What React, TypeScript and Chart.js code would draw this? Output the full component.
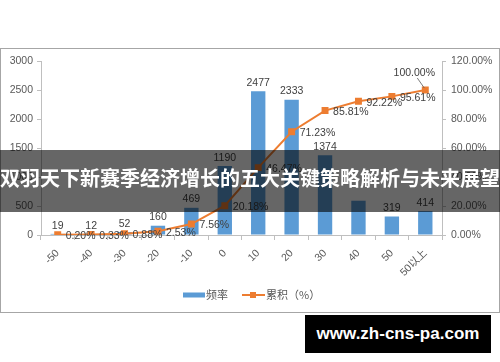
import React, { useEffect, useRef } from "react";
import { Chart, registerables } from "chart.js";

Chart.register(...registerables);

const categories = ["-50", "-40", "-30", "-20", "-10", "0", "10", "20", "30", "40", "50", "50以上"];
const frequency = [19, 12, 52, 160, 469, 1190, 2477, 2333, 1374, 591, 319, 414];
const cumulative = [0.2, 0.33, 0.88, 2.53, 7.56, 20.18, 46.47, 71.23, 85.81, 92.22, 95.61, 100.0];
const hiddenBarLabels = [9];
const seriesNames = ["频率", "累积（%）"];
const titleText = "双羽天下新赛季经济增长的五大关键策略解析与未来展望";
const watermarkText = "www.zh-cns-pa.com";

const BLUE = "#5B9BD5";
const ORANGE = "#ED7D31";
const AXIS = "#bfbfbf";
const TICK_COLOR = "#595959";
const LABEL_COLOR = "#404040";
const FONT_FAMILY = "'Liberation Sans', 'Noto Sans CJK SC', sans-serif";

const decorPlugin = {
  id: "decor",
  beforeDraw(chart: any) {
    const ctx = chart.ctx;
    ctx.save();
    ctx.fillStyle = "#ffffff";
    ctx.fillRect(0, 0, chart.width, chart.height);
    ctx.strokeStyle = "#a6a6a6";
    ctx.lineWidth = 1;
    ctx.strokeRect(0.5, 48.5, 499, 264);
    ctx.restore();
  },
  afterDatasetsDraw(chart: any) {
    const ctx = chart.ctx;
    ctx.save();
    ctx.font = `10.5px ${FONT_FAMILY}`;
    ctx.fillStyle = LABEL_COLOR;
    const barMeta = chart.getDatasetMeta(0);
    ctx.textAlign = "center";
    ctx.textBaseline = "bottom";
    barMeta.data.forEach((el: any, i: number) => {
      if (hiddenBarLabels.includes(i)) return;
      ctx.fillText(String(frequency[i]), el.x, el.y - 3);
    });
    const lineMeta = chart.getDatasetMeta(1);
    ctx.textBaseline = "middle";
    lineMeta.data.forEach((el: any, i: number) => {
      const txt = cumulative[i].toFixed(2) + "%";
      if (i === cumulative.length - 1) {
        ctx.textAlign = "center";
        ctx.fillText(txt, el.x - 11, el.y - 17);
        ctx.strokeStyle = "#595959";
        ctx.lineWidth = 0.8;
        ctx.beginPath();
        ctx.moveTo(el.x - 8, el.y - 12);
        ctx.lineTo(el.x - 1, el.y - 2);
        ctx.stroke();
      } else {
        ctx.textAlign = "left";
        ctx.fillText(txt, el.x + 8, el.y + 1.5);
      }
    });
    ctx.restore();
  },
  afterDraw(chart: any) {
    const ctx = chart.ctx;
    ctx.save();
    const ly = 295;
    ctx.fillStyle = BLUE;
    ctx.fillRect(183, ly - 2.5, 22, 5);
    ctx.font = `11px 'Noto Sans CJK SC', sans-serif`;
    ctx.fillStyle = TICK_COLOR;
    ctx.textAlign = "left";
    ctx.textBaseline = "middle";
    ctx.fillText(seriesNames[0], 206, ly);
    ctx.strokeStyle = ORANGE;
    ctx.lineWidth = 2;
    ctx.beginPath();
    ctx.moveTo(242, ly);
    ctx.lineTo(265, ly);
    ctx.stroke();
    ctx.fillStyle = ORANGE;
    ctx.fillRect(250, ly - 3, 6, 6);
    ctx.fillStyle = TICK_COLOR;
    ctx.fillText(seriesNames[1], 266, ly);
    ctx.restore();
  },
};

export default function App() {
  const canvasRef = useRef<HTMLCanvasElement | null>(null);

  useEffect(() => {
    const canvas = canvasRef.current;
    if (!canvas) return;
    const tickFont = { family: FONT_FAMILY, size: 10.5 };
    const chart = new Chart(canvas, {
      type: "bar",
      data: {
        labels: categories,
        datasets: [
          {
            type: "bar",
            label: seriesNames[0],
            data: frequency,
            backgroundColor: BLUE,
            barPercentage: 0.43,
            categoryPercentage: 1,
            yAxisID: "y",
            order: 1,
          },
          {
            type: "line",
            label: seriesNames[1],
            data: cumulative,
            borderColor: ORANGE,
            backgroundColor: ORANGE,
            borderWidth: 2,
            pointStyle: "rect",
            pointRadius: 3.5,
            pointBackgroundColor: ORANGE,
            pointBorderColor: ORANGE,
            tension: 0,
            yAxisID: "y1",
            order: 0,
          },
        ],
      } as any,
      options: {
        responsive: false,
        animation: false,
        devicePixelRatio: 1,
        layout: { padding: { top: 61, left: 0, right: 0, bottom: 0 } },
        plugins: {
          legend: { display: false },
          tooltip: { enabled: false },
          title: { display: false },
        },
        scales: {
          x: {
            offset: true,
            grid: { offset: true, drawOnChartArea: false, drawTicks: true, tickLength: 5, color: AXIS },
            border: { display: true, color: AXIS },
            ticks: { minRotation: 45, maxRotation: 45, color: TICK_COLOR, font: tickFont, padding: 7 },
            afterFit: (s: any) => {
              s.height = 127;
            },
          },
          y: {
            position: "left",
            min: 0,
            max: 3000,
            grid: { drawOnChartArea: false, drawTicks: true, tickLength: 4, color: AXIS },
            border: { display: true, color: AXIS },
            ticks: { stepSize: 500, color: TICK_COLOR, font: tickFont, padding: 4, callback: (v: any) => String(v) },
            afterFit: (s: any) => {
              s.width = 41;
            },
          },
          y1: {
            position: "right",
            min: 0,
            max: 120,
            grid: { drawOnChartArea: false, drawTicks: true, tickLength: 4, color: AXIS },
            border: { display: true, color: AXIS },
            ticks: {
              stepSize: 20,
              color: TICK_COLOR,
              font: tickFont,
              padding: 5,
              callback: (v: any) => Number(v).toFixed(2) + "%",
            },
            afterFit: (s: any) => {
              s.width = 58;
            },
          },
        },
      } as any,
      plugins: [decorPlugin],
    });
    return () => chart.destroy();
  }, []);

  return (
    <div style={{ position: "fixed", left: 0, top: 0, width: 500, height: 362, background: "#fff", overflow: "hidden" }}>
      <canvas ref={canvasRef} width={500} height={362} style={{ display: "block", width: 500, height: 362 }} />
      <div
        style={{
          position: "absolute",
          left: 0,
          top: 150,
          width: 500,
          height: 62,
          background: "rgba(0,0,0,0.6)",
          color: "#fff",
          fontFamily: "'Noto Sans CJK SC', sans-serif",
          fontWeight: 700,
          fontSize: 20,
          lineHeight: "62px",
          textAlign: "center",
          whiteSpace: "nowrap",
          overflow: "hidden",
        }}
      >
        <span style={{ position: "relative", top: -3 }}>{titleText}</span>
      </div>
      <div
        style={{
          position: "absolute",
          left: 305,
          top: 315,
          width: 186,
          height: 38,
          background: "#000",
          color: "#fff",
          fontFamily: "'Liberation Sans', sans-serif",
          fontWeight: 700,
          fontSize: 17,
          lineHeight: "38px",
          textAlign: "center",
          whiteSpace: "nowrap",
        }}
      >
        {watermarkText}
      </div>
    </div>
  );
}
